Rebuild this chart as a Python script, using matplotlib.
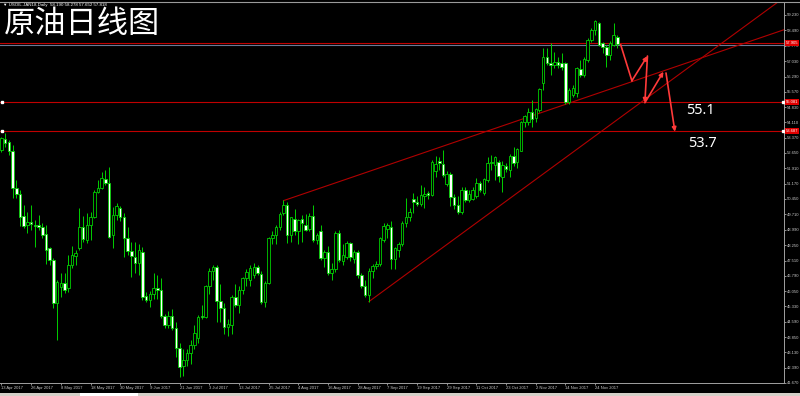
import matplotlib.pyplot as plt
from matplotlib.patches import Rectangle
from matplotlib.lines import Line2D
import numpy as np

# daily OHLC (bar 0 = 13 Apr 2017)
opens = [52.79, 53.30, 53.18, 52.74, 50.99, 50.69, 49.64, 49.21, 49.34, 49.20,
         49.21, 49.13, 48.76, 48.09, 47.54, 45.47, 46.27, 46.46, 46.19, 47.30,
         47.73, 48.09, 49.10, 48.49, 49.21, 49.61, 50.80, 50.96, 51.39, 51.20,
         48.73, 49.70, 50.00, 49.61, 48.57, 47.98, 47.67, 47.38, 47.94, 45.84,
         45.63, 45.90, 46.20, 46.11, 44.87, 44.44, 44.87, 44.28, 43.32, 42.50,
         42.77, 43.12, 43.48, 43.80, 44.87, 44.80, 46.30, 47.00, 47.20, 45.60,
         45.23, 44.36, 44.45, 45.76, 45.39, 46.11, 46.66, 46.60, 46.80, 47.20,
         46.87, 45.55, 46.46, 48.57, 48.75, 49.13, 49.80, 50.16, 48.73, 49.50,
         48.90, 49.50, 49.20, 49.00, 49.64, 48.49, 48.90, 47.62, 47.90, 46.90,
         47.10, 48.84, 47.50, 47.70, 48.33, 47.60, 47.90, 46.82, 46.30, 45.87,
         47.00, 47.25, 47.35, 48.50, 49.00, 49.10, 47.60, 48.00, 48.30, 49.29,
         49.60, 50.45, 50.30, 50.20, 50.60, 50.75, 50.65, 51.80, 52.25, 52.10,
         51.15, 51.65, 50.55, 50.15, 49.85, 50.90, 50.40, 50.45, 50.60, 51.20,
         50.75, 51.36, 52.15, 52.07, 52.23, 51.51, 52.02, 51.83, 52.50, 52.23,
         52.76, 54.14, 54.14, 54.61, 54.30, 54.69, 55.97, 57.24, 56.92, 56.84,
         57.00, 56.92, 56.92, 55.09, 55.41, 55.49, 56.64, 56.36, 57.08, 58.03,
         58.51, 58.83, 57.88, 57.72, 57.32, 57.80, 58.19]
highs = [53.42, 53.58, 53.26, 53.03, 51.36, 50.88, 50.16, 49.84, 50.16, 49.45,
         49.69, 49.30, 49.21, 48.14, 47.62, 46.58, 46.93, 46.90, 47.78, 48.21,
         48.02, 50.00, 49.64, 49.77, 49.84, 50.88, 51.36, 51.75, 51.83, 51.99,
         50.05, 50.27, 50.10, 49.80, 49.10, 48.40, 48.40, 48.30, 48.17, 46.00,
         46.05, 46.90, 46.80, 46.70, 44.95, 45.10, 45.20, 44.60, 43.60, 43.30,
         43.30, 43.70, 44.44, 44.90, 45.40, 46.35, 47.15, 47.30, 47.30, 46.40,
         45.50, 44.70, 45.85, 46.40, 46.30, 46.75, 47.10, 47.30, 47.40, 47.30,
         47.00, 46.55, 48.65, 48.90, 49.20, 49.85, 50.40, 50.30, 49.60, 49.95,
         49.50, 49.70, 49.75, 49.78, 50.16, 48.85, 49.20, 48.00, 48.20, 47.40,
         48.90, 48.95, 48.30, 48.45, 48.40, 48.00, 48.00, 46.90, 46.60, 47.15,
         47.35, 47.50, 48.65, 49.30, 49.30, 49.40, 48.15, 48.40, 49.40, 50.48,
         50.00, 50.75, 50.60, 51.10, 51.00, 50.85, 52.30, 52.50, 52.45, 52.79,
         51.80, 51.75, 50.70, 50.60, 51.00, 51.00, 50.90, 51.00, 51.45, 51.30,
         51.45, 52.47, 52.55, 52.50, 52.31, 52.25, 52.15, 52.60, 52.94, 52.88,
         54.19, 54.46, 54.77, 55.17, 54.77, 55.73, 57.64, 57.64, 57.88, 57.48,
         57.24, 57.40, 57.00, 55.73, 55.89, 56.76, 57.08, 57.24, 58.11, 58.59,
         58.99, 58.91, 57.96, 57.80, 58.00, 58.83, 58.28]
lows = [52.71, 52.95, 52.55, 50.48, 50.48, 49.16, 49.05, 48.81, 48.97, 48.17,
        48.97, 48.57, 47.35, 47.30, 45.23, 43.72, 45.79, 45.95, 46.03, 47.14,
        47.30, 48.02, 48.41, 48.33, 48.49, 49.53, 50.75, 50.91, 51.12, 48.57,
        48.10, 49.45, 49.40, 47.70, 47.80, 46.74, 46.90, 46.80, 45.63, 45.55,
        45.30, 45.70, 45.70, 44.76, 44.30, 44.30, 44.20, 42.93, 41.97, 42.00,
        42.50, 42.60, 43.30, 43.60, 44.70, 44.75, 45.90, 46.60, 44.60, 44.60,
        44.00, 43.90, 44.00, 45.30, 45.00, 45.90, 46.30, 46.30, 46.70, 46.80,
        45.45, 45.30, 46.40, 48.30, 48.30, 48.95, 49.70, 48.33, 48.40, 48.75,
        48.30, 48.40, 48.90, 48.90, 48.40, 48.30, 47.55, 47.20, 46.80, 46.60,
        46.95, 47.45, 47.30, 47.60, 47.50, 47.40, 46.70, 46.20, 45.79, 45.55,
        46.70, 47.10, 47.25, 48.40, 48.60, 47.10, 47.10, 47.70, 48.20, 49.10,
        49.40, 49.80, 50.10, 50.10, 50.00, 50.45, 50.60, 51.50, 51.85, 51.50,
        51.05, 50.10, 49.95, 49.75, 49.75, 50.30, 50.30, 50.40, 50.50, 50.80,
        50.65, 51.28, 51.83, 51.36, 51.28, 50.80, 51.75, 51.51, 52.02, 51.91,
        52.72, 53.90, 53.99, 53.90, 54.10, 54.61, 55.65, 56.84, 56.36, 56.68,
        56.68, 56.60, 55.00, 55.00, 55.33, 55.33, 56.28, 56.28, 57.00, 57.95,
        58.27, 57.75, 57.40, 56.76, 57.10, 57.75, 57.65]
closes = [53.34, 53.14, 52.74, 50.96, 50.69, 49.61, 49.16, 49.34, 49.24, 49.16,
          49.10, 48.73, 48.02, 47.54, 45.47, 46.47, 46.43, 46.11, 47.30, 47.78,
          47.89, 49.10, 48.53, 49.21, 49.61, 50.80, 50.99, 51.44, 51.23, 48.62,
          49.70, 50.10, 49.61, 48.57, 47.98, 47.73, 47.38, 48.00, 45.79, 45.63,
          45.90, 46.19, 46.10, 44.87, 44.44, 44.87, 44.28, 43.32, 42.45, 42.77,
          43.12, 43.48, 44.04, 44.83, 44.80, 46.30, 47.00, 47.20, 45.60, 45.23,
          44.36, 44.50, 45.76, 45.39, 46.11, 46.66, 46.98, 47.15, 47.20, 46.90,
          45.55, 46.46, 48.57, 48.75, 49.13, 49.73, 50.16, 48.73, 49.57, 48.90,
          49.45, 49.30, 48.98, 49.64, 48.49, 48.75, 47.62, 47.90, 46.90, 47.10,
          48.84, 47.54, 47.80, 48.33, 47.70, 47.90, 46.82, 46.30, 45.87, 47.00,
          47.25, 47.35, 48.57, 49.15, 49.20, 47.60, 48.10, 48.30, 49.29, 49.61,
          49.85, 50.30, 50.20, 50.64, 50.70, 50.65, 52.23, 52.10, 52.15, 51.60,
          51.65, 50.55, 50.15, 49.85, 50.90, 50.40, 50.70, 50.90, 51.20, 50.90,
          51.40, 52.15, 52.20, 52.47, 51.55, 52.07, 51.86, 52.50, 52.15, 52.82,
          54.14, 54.41, 54.61, 54.25, 54.73, 55.68, 57.24, 56.92, 56.84, 57.00,
          56.84, 56.76, 55.09, 55.65, 55.73, 56.68, 56.36, 57.11, 58.03, 58.51,
          58.96, 57.80, 57.72, 57.32, 57.88, 58.27, 57.82]

date_labels = ['13 Apr 2017', '26 Apr 2017', '8 May 2017', '18 May 2017', '30 May 2017',
               '9 Jun 2017', '21 Jun 2017', '3 Jul 2017', '13 Jul 2017', '25 Jul 2017',
               '4 Aug 2017', '16 Aug 2017', '28 Aug 2017', '7 Sep 2017', '19 Sep 2017',
               '29 Sep 2017', '11 Oct 2017', '23 Oct 2017', '2 Nov 2017', '14 Nov 2017',
               '24 Nov 2017']
date_pos = list(range(0, 161, 8))

price_ticks = [41.670, 42.390, 43.130, 43.850, 44.590, 45.330, 46.050, 46.790, 47.510,
               48.250, 48.990, 49.710, 50.450, 51.170, 51.910, 52.650, 53.370, 54.110,
               54.830, 55.570, 56.290, 57.030, 57.770, 58.490, 59.230]

# horizontal support levels and their labels
levels = [55.081, 53.687]
level_text = ['55.1', '53.7']
last_price = 57.818
ask_line = 57.905

# trend lines (bar index, price)
upper_x = [76, 211]
upper_y = [50.37, 58.53]
lower_x = [99, 211]
lower_y = [45.55, 60.07]

# hand-drawn forecast path
path_x = [166.9, 169.9, 174.1, 173.4, 178.4]
path_y = [57.80, 56.09, 57.27, 55.04, 56.52]
drop_x = [179.1, 181.5]
drop_y = [56.46, 53.66]

green = '#00d000'
red = '#c00000'

fig = plt.figure(figsize=(8, 3.96), dpi=100, facecolor='black')
ax = fig.add_axes([0, 13 / 396, 784 / 800, 381 / 396])
ax.set_facecolor('black')

idx = np.arange(len(opens))
o = np.array(opens)
c = np.array(closes)
up = c >= o
bottom = np.minimum(o, c)
height = np.maximum(np.abs(c - o), 0.03)

ax.vlines(idx, lows, highs, color=green, lw=0.7, zorder=2)
ax.bar(idx[up], height[up], bottom=bottom[up], width=0.68, color='black',
       edgecolor=green, linewidth=0.6, zorder=3)
ax.bar(idx[~up], height[~up], bottom=bottom[~up], width=0.68, color='white',
       edgecolor=green, linewidth=0.6, zorder=3)

ax.set_xlim(-0.404, 210.9)
ax.set_ylim(41.67, 59.847)

# lines
for lv in levels:
    ax.axhline(lv, color=red, lw=0.8, zorder=1)
    ax.plot([0.1, 210.7], [lv, lv], 's', color='white', ms=1.6, zorder=4)
ax.axhline(ask_line, color=red, lw=0.8, zorder=1)
ax.axhline(last_price, color='#6a7a96', lw=0.8, zorder=1)
ax.plot(upper_x, upper_y, color='#b00000', lw=0.8, zorder=1)
ax.plot(lower_x, lower_y, color='#b00000', lw=0.8, zorder=1)

arrow_col = '#ff3a3a'
ax.plot(path_x[:2], path_y[:2], color=arrow_col, lw=1.2, zorder=5)
for k in range(1, len(path_x) - 1):
    ax.annotate('', xy=(path_x[k + 1], path_y[k + 1]), xytext=(path_x[k], path_y[k]),
                arrowprops=dict(arrowstyle='-|>', color=arrow_col, lw=1.2,
                                mutation_scale=6, shrinkA=0, shrinkB=0), zorder=5)
ax.annotate('', xy=(drop_x[1], drop_y[1]), xytext=(drop_x[0], drop_y[0]),
            arrowprops=dict(arrowstyle='-|>', color=arrow_col, lw=1.2,
                            mutation_scale=6, shrinkA=0, shrinkB=0), zorder=5)

ax.text(184.5, 54.67, level_text[0], color='white', fontsize=10.5,
        family='Noto Sans', va='center', ha='left')
ax.text(185.1, 53.10, level_text[1], color='white', fontsize=10.5,
        family='Noto Sans', va='center', ha='left')

# axes styling
ax.yaxis.tick_right()
ax.set_yticks(price_ticks, ['%.3f' % t for t in price_ticks])
ax.set_xticks(date_pos, date_labels)
for lbl in ax.get_xticklabels():
    lbl.set_ha('left')
ax.tick_params(axis='both', colors='#c8c8c8', labelsize=3.0, length=1.5, width=0.5, pad=0.8)
for lbl in ax.get_xticklabels() + ax.get_yticklabels():
    lbl.set_family('Liberation Sans')
for s in ['top', 'left']:
    ax.spines[s].set_visible(False)
for s in ['right', 'bottom']:
    ax.spines[s].set_color('#a0a0a0')
    ax.spines[s].set_linewidth(0.7)

# price tags on the right axis
tr = ax.get_yaxis_transform()
for val in [ask_line, levels[0], levels[1]]:
    ax.text(1.002, val, '%.3f' % val, transform=tr, fontsize=3.0, color='white',
            family='Liberation Sans', va='center', ha='left', clip_on=False,
            bbox=dict(boxstyle='square,pad=0.2', fc='#e00000', ec='none'))

# window chrome
fig.add_artist(Line2D([0, 1], [1 - 1.5 / 396] * 2, color='#9a9a9a', lw=0.8))
fig.patches.append(Rectangle((0, 0), 1, 3 / 396, transform=fig.transFigure,
                             fc='#d4d0c8', ec='none'))
fig.patches.append(Rectangle((80 / 800, 0), 58 / 800, 3 / 396, transform=fig.transFigure,
                             fc='white', ec='none'))

fig.text(3 / 800, 1 - 4.8 / 396, '\u25bc USOIL.JAN18,Daily  58.190 58.278 57.652 57.818',
         color='white', fontsize=3.2, family=['Liberation Sans', 'DejaVu Sans'],
         va='center', ha='left')
fig.text(4 / 800, 1 - 24 / 396, '原油日线图', color='white', fontsize=22.5,
         family=['Noto Sans CJK SC', 'DejaVu Sans'], va='center', ha='left')

fig.savefig('out.png', dpi=100, facecolor='black')
